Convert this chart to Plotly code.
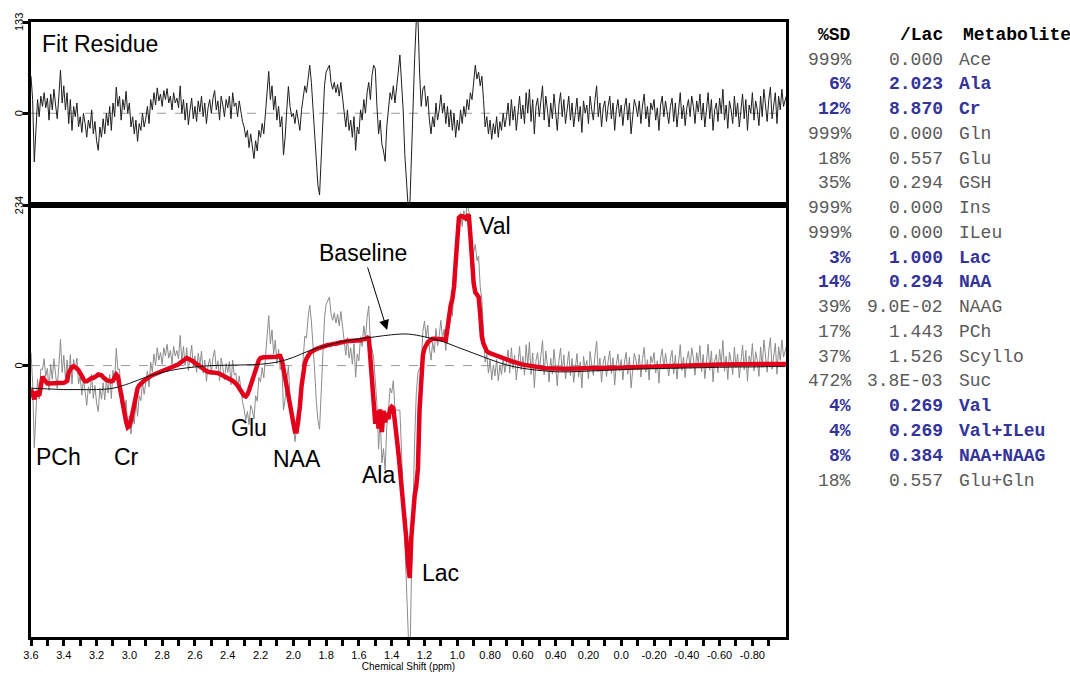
import numpy as np
import plotly.graph_objects as go

# ---------------- data ----------------
PPM_START = 3.60
PPM_STEP = 0.01

# LCModel fit (red), one value per 0.01 ppm from 3.60 down to -1.01
FIT = [
    -35, -44, -49, -38, -40, -44, -30, -16, -20, -24,
    -26, -26, -26, -25, -25, -25, -25, -25, -25, -25,
    -25, -24, -22, -10, -4, -2, -1, -2, -4, -7,
    -10, -15, -20, -23, -23, -21, -19, -18, -18, -17,
    -15, -13, -13, -14, -17, -20, -21, -22, -23, -23,
    -22, -18, -13, -16, -30, -45, -60, -72, -82, -90,
    -88, -80, -68, -55, -40, -33, -29, -26, -24, -22,
    -20, -18, -16, -15, -14, -13, -12, -11, -10, -9,
    -8, -7, -6, -5, -4, -3, -3, -2, -1, 0,
    2, 4, 6, 8, 10, 11, 10, 9, 8, 6,
    4, 2, 0, -2, -4, -6, -7, -8, -9, -10,
    -10, -10, -10, -10, -11, -12, -14, -15, -16, -17,
    -18, -19, -20, -22, -24, -26, -29, -33, -37, -41,
    -44, -45, -42, -36, -28, -20, -12, -4, 3, 8,
    11, 12, 12, 12, 12, 12, 12, 12, 12, 12,
    13, 14, 14, 8, -4, -14, -26, -40, -55, -70,
    -84, -96, -96, -80, -60, -30, -10, 3, 10, 15,
    18, 20, 22, 23, 24, 25, 26, 27, 28, 29,
    29, 30, 30, 31, 31, 32, 32, 33, 33, 34,
    34, 35, 35, 36, 36, 36, 37, 37, 37, 37,
    37, 37, 38, 38, 39, 40, 42, 10, -30, -60,
    -85, -66, -92, -64, -97, -66, -83, -69, -78, -63,
    -60, -62, -80, -100, -125, -150, -175, -198, -222, -255,
    -290, -310, -250, -215, -190, -176, -150, -64, -10, 15,
    25, 31, 34, 36, 38, 39, 39, 39, 39, 39,
    39, 39, 38, 37, 55, 75, 88, 97, 115, 150,
    192, 216, 218, 218, 216, 215, 218, 220, 190, 148,
    120, 107, 103, 100, 75, 42, 32, 25, 21, 19,
    18, 17, 16, 15, 14, 13, 12.5, 12, 11, 10,
    9, 8, 7, 6, 5.5, 5, 4, 3.5, 3, 2,
    1.5, 1, 0.5, 0, -0.5, -1, -1.5, -2, -2.5, -3,
    -3, -3.2, -3.4, -3.6, -3.8, -4, -4, -4.2, -4.2, -4.4,
    -4.4, -4.5, -4.5, -4.5, -4.5, -4.5, -4.5, -4.5, -4.5, -4.5,
    -4.5, -4.5, -4.5, -4.5, -4.5, -4.5, -4.5, -4.5, -4.5, -4.5,
    -4.5, -4.5, -4.5, -4.4, -4.4, -4.3, -4.3, -4.2, -4.2, -4.1,
    -4, -3.9, -3.8, -3.7, -3.6, -3.5, -3.4, -3.3, -3.2, -3.1,
    -3, -2.9, -2.8, -2.7, -2.6, -2.5, -2.4, -2.3, -2.2, -2.1,
    -2.0, -1.9, -1.8, -1.7, -1.6, -1.5, -1.4, -1.3, -1.2, -1.1,
    -1.0, -0.9, -0.8, -0.7, -0.6, -0.5, -0.4, -0.3, -0.2, -0.1,
    0, 0.1, 0.2, 0.3, 0.4, 0.5, 0.5, 0.6, 0.6, 0.7,
    0.7, 0.8, 0.8, 0.9, 0.9, 1.0, 1.0, 1.1, 1.1, 1.2,
    1.2, 1.2, 1.3, 1.3, 1.3, 1.4, 1.4, 1.4, 1.5, 1.5,
    1.5, 1.6, 1.6, 1.6, 1.7, 1.7, 1.7, 1.8, 1.8, 1.8,
    1.9, 1.9, 1.9, 2.0, 2.0, 2.0, 2.1, 2.1, 2.1, 2.2,
    2.2, 2.2, 2.3, 2.3, 2.3, 2.3, 2.4, 2.4, 2.4, 2.4,
    2.5, 2.5, 2.5, 2.5, 2.5, 2.5, 2.5, 2.5, 2.5, 2.5,
    2.5, 2.5,
]

# Fit residue (data - fit), same ppm grid
RESIDUE = [
    54, 20, -71, -18, 20, -5, 25, 10, 30, 8,
    22, -10, 28, 5, 35, 12, -8, 25, 63, 15,
    40, 5, 30, -15, 20, -25, 10, -5, 15, -20,
    -5, -28, 0, -15, -35, -10, -22, 5, -30, -12,
    -40, -54, -20, -35, -8, -30, 0, -18, 10, -25,
    15, -5, 38, 10, 25, -10, 20, 5, 32, 0,
    15, -20, -5, -30, -10, -41, -15, -25, 0, -20,
    -8, 10, -15, 20, 5, 30, 12, 37, 18, 28,
    10, 33, 20, 36, 15, 25, 5, 30, 15, 22,
    8, 40, 0, 20, -10, 15, -17, 5, 22, -8,
    10, -12, 18, 2, 25, -5, 15, -15, 8, 20,
    0, 22, 33, 5, 18, -10, 25, 12, -5, 20,
    8, 25, -8, 30, 10, 15, -5, 18, 0, -12,
    -20, -35, -25, -50, -30, -45, -66, -40, -55, -25,
    -35, -15, -30, 0, 25, 61, 20, 40, 5, 25,
    -10, 10, -20, -5, -61, -35, 5, 39, 10, -5,
    0, -15, 5, -10, -25, 5, 20, 40, 30, 55,
    70, 45, 10, -30, -75, -105, -119, -70, -10, 40,
    60, 65, 70, 45, 35, 45, 30, 42, 25, 45,
    20, 0, -20, 5, -25, -10, -35, -5, -54, -20,
    -30, 5, -10, 20, 0, 30, 45, 20, 55, 70,
    65, 10, -30, -10, -45, -55, -70, -20, 10, 30,
    20, 40, 15, 35, 60, 85, 50, 5, -60, -100,
    -135, -140, -60, 20, 80, 135, 140, 60, 10, 35,
    40, 10, 25, -10, -30, -5, -20, 15, -10, 5,
    27, 0, 15, -15, 10, -20, 5, -25, 0, -35,
    -10, -25, 5, -15, 10, -5, 20, 5, 30, 20,
    45, 70, 50, 60, 40, 54, 20, -20, -5, -30,
    -10, -38, -15, -30, -5, -35, -12, -25, 0, -20,
    -5, 15, -18, 20, -10, 10, -25, 5, 25, -8,
    12, -15, 30, 0, 35, -12, 20, -30, 10, 22,
    -5, 18, 40, -10, 25, 5, -20, 15, -8, 28,
    2, -25, 12, 30, -5, 20, -15, 8, 25, -10,
    15, -20, 5, 22, -12, 10, -28, 18, 0, 12,
    -15, 25, 5, -10, 20, 40, -5, 15, -20, 8,
    18, -12, 10, 25, -8, 15, -25, 5, 20, -5,
    12, -18, 8, 22, -10, 15, -30, 0, 20, 10,
    -5, 18, -15, 12, 28, -8, 10, -20, 15, 5,
    20, -10, 8, -25, 12, 25, -5, 18, 0, -15,
    10, 22, -12, 15, -20, 5, 30, -8, 12, -18,
    8, 20, -5, 25, 10, -15, 18, 2, 28, -10,
    15, -20, 10, 30, -8, 20, -25, 5, 15, -12,
    22, 0, 35, -10, 12, -22, 18, 5, -15, 25,
    -5, 15, -20, 10, 28, -8, 20, -25, 12, 0,
    30, -10, 18, 5, -18, 25, -5, 35, 10, -12,
    20, 38, -8, 15, 30, -15, 25, 5, 35, 10,
    20, 28,
]

# Baseline (thin black), coarse grid
BASELINE_PPM = [3.6, 3.5, 3.4, 3.3, 3.2, 3.1, 3.0, 2.9, 2.8, 2.7, 2.6, 2.5, 2.4,
                2.3, 2.2, 2.1, 2.0, 1.9, 1.8, 1.7, 1.6, 1.5, 1.4, 1.3, 1.2, 1.1,
                1.0, 0.9, 0.8, 0.7, 0.6, 0.5, 0.4, 0.3, 0.2, 0.1, 0.0, -0.1, -0.2,
                -0.3, -0.4, -0.5, -0.6, -0.7, -0.8, -0.9, -1.0]
BASELINE = [-33, -34, -35, -35, -35, -33, -26, -17, -10, -5, -2, 0, 0.5,
            1, 2, 5, 12, 22, 29, 35, 39, 42, 45, 46, 42, 36,
            27, 18, 9, 1, -4, -7, -9, -9, -8, -7, -6, -5, -4.5,
            -4, -3.5, -3, -2.5, -2, -2, -1.5, -1.5]

# Results table
METABOLITES = ["Ace", "Ala", "Cr", "Gln", "Glu", "GSH", "Ins", "ILeu", "Lac", "NAA",
               "NAAG", "PCh", "Scyllo", "Suc", "Val", "Val+ILeu", "NAA+NAAG", "Glu+Gln"]
PCT_SD = ["999%", "6%", "12%", "999%", "18%", "35%", "999%", "999%", "3%", "14%",
          "39%", "17%", "37%", "472%", "4%", "4%", "8%", "18%"]
CONC_LAC = ["0.000", "2.023", "8.870", "0.000", "0.557", "0.294", "0.000", "0.000", "1.000",
            "0.294", "9.0E-02", "1.443", "1.526", "3.8E-03", "0.269", "0.269", "0.384", "0.557"]
HIGHLIGHT = [False, True, True, False, False, False, False, False, True, True,
             False, False, False, False, True, True, True, False]
TABLE_HEADER = ["%SD", "/Lac", "Metabolite"]

# Axis ticks
XTICK_VALS = [3.6, 3.5, 3.4, 3.3, 3.2, 3.1, 3.0, 2.9, 2.8, 2.7, 2.6, 2.5, 2.4, 2.3,
              2.2, 2.1, 2.0, 1.9, 1.8, 1.7, 1.6, 1.5, 1.4, 1.3, 1.2, 1.1, 1.0, 0.9,
              0.8, 0.7, 0.6, 0.5, 0.4, 0.3, 0.2, 0.1, 0.0, -0.1, -0.2, -0.3, -0.4,
              -0.5, -0.6, -0.7, -0.8, -0.9]
XTICK_TEXT = ["3.6", "", "3.4", "", "3.2", "", "3.0", "", "2.8", "", "2.6", "", "2.4", "",
              "2.2", "", "2.0", "", "1.8", "", "1.6", "", "1.4", "", "1.2", "", "1.0", "",
              "0.80", "", "0.60", "", "0.40", "", "0.20", "", "0.0", "", "-0.20", "", "-0.40",
              "", "-0.60", "", "-0.80", ""]
TOP_YLABELS = [133, 0]
BOTTOM_YLABELS = [234, 0]

PEAK_LABELS = ["PCh", "Cr", "Glu", "NAA", "Ala", "Lac", "Val"]
PEAK_LABEL_PPM = [3.43, 3.015, 2.272, 1.98, 1.48, 1.103, 0.768]
PEAK_LABEL_VAL = [-133, -133, -91, -136, -159, -302, 204]

# ---------------- layout helpers ----------------
W, H = 1070, 680
ML, MR, MT, MB = 31, 284, 22, 37
PW, PH = W - ML - MR, H - MT - MB


def px(x):
    return (x - ML) / PW


def py(y):
    return (H - MB - y) / PH


split = py(207)

ppm = np.round(PPM_START - PPM_STEP * np.arange(len(FIT)), 2)
fit = np.array(FIT, dtype=float)
res = np.array(RESIDUE, dtype=float)
data = fit + res

fig = go.Figure()
fig.add_trace(go.Scatter(x=ppm, y=res, mode="lines", xaxis="x2", yaxis="y2",
                         line=dict(color="#1e1e1e", width=1), hoverinfo="skip"))
fig.add_trace(go.Scatter(x=ppm, y=data, mode="lines",
                         line=dict(color="#8c8c8c", width=1), hoverinfo="skip"))
fig.add_trace(go.Scatter(x=ppm, y=fit, mode="lines",
                         line=dict(color="#e2001a", width=4.5), hoverinfo="skip"))
fig.add_trace(go.Scatter(x=BASELINE_PPM, y=BASELINE, mode="lines",
                         line=dict(color="#111111", width=1, shape="spline"), hoverinfo="skip"))

XR = [3.6, -1.005]
axis_common = dict(showline=True, linewidth=3, linecolor="black", mirror=True,
                   showgrid=False, zeroline=False)

fig.update_layout(
    width=W, height=H, autosize=False,
    margin=dict(l=ML, r=MR, t=MT, b=MB, pad=0),
    paper_bgcolor="white", plot_bgcolor="white",
    showlegend=False,
    font=dict(family="Arial, Liberation Sans, sans-serif", color="black"),
    xaxis=dict(range=XR, domain=[0, 1], anchor="y", tickmode="array",
               tickvals=XTICK_VALS, ticktext=XTICK_TEXT, ticks="outside",
               ticklen=6, tickwidth=3, tickcolor="black",
               tickfont=dict(size=11, family="Arial, Liberation Sans, sans-serif"),
               title=dict(text="Chemical Shift (ppm)", standoff=0,
                          font=dict(size=10)), **axis_common),
    yaxis=dict(range=[-396, 234], domain=[0, split], anchor="x", tickmode="array",
               tickvals=[0, 234], ticks="outside", ticklen=5, tickwidth=3,
               tickcolor="black", showticklabels=False, **axis_common),
    xaxis2=dict(range=XR, domain=[0, 1], anchor="y2", matches="x",
                showticklabels=False, ticks="", **axis_common),
    yaxis2=dict(range=[-134, 133], domain=[split, 1], anchor="x2", tickmode="array",
                tickvals=[0, 133], ticks="outside", ticklen=5, tickwidth=3,
                tickcolor="black", showticklabels=False, **axis_common),
)

# dashed zero lines
for yr in ("y", "y2"):
    fig.add_shape(type="line", xref="paper", yref=yr, x0=0, x1=1, y0=0, y1=0,
                  line=dict(color="#9a9a9a", width=1, dash="dash"), layer="below")

ann = []
# rotated y labels
for v in TOP_YLABELS:
    ann.append(dict(text=str(v), xref="paper", yref="y2", x=0, y=v, xshift=-12,
                    showarrow=False, textangle=-90, font=dict(size=11),
                    xanchor="center", yanchor="middle"))
for v in BOTTOM_YLABELS:
    ann.append(dict(text=str(v), xref="paper", yref="y", x=0, y=v, xshift=-12,
                    showarrow=False, textangle=-90, font=dict(size=11),
                    xanchor="center", yanchor="middle"))

ann.append(dict(text="Fit Residue", xref="paper", yref="paper", x=px(40), y=py(44),
                xanchor="left", yanchor="middle", showarrow=False, font=dict(size=23)))

for t, xv, yv in zip(PEAK_LABELS, PEAK_LABEL_PPM, PEAK_LABEL_VAL):
    ann.append(dict(text=t, xref="x", yref="y", x=xv, y=yv, showarrow=False,
                    xanchor="center", yanchor="middle", font=dict(size=23)))

ann.append(dict(text="Baseline", xref="x", yref="y", x=1.428, y=52, ax=-24, ay=-77,
                axref="pixel", ayref="pixel", showarrow=True, arrowhead=2, arrowsize=2,
                arrowwidth=1, arrowcolor="black", font=dict(size=23)))

# results table
MONO = "Courier New, Liberation Mono, monospace"
BLUE = "#33339a"
GRAY = "#5a5a5a"
hy = 35
ann.append(dict(text="<b>%s</b>" % TABLE_HEADER[0], xref="paper", yref="paper", x=px(853), y=py(hy),
                xanchor="right", yanchor="middle", showarrow=False, font=dict(family=MONO, size=18, color="black")))
ann.append(dict(text="<b>%s</b>" % TABLE_HEADER[1], xref="paper", yref="paper", x=px(945), y=py(hy),
                xanchor="right", yanchor="middle", showarrow=False, font=dict(family=MONO, size=18, color="black")))
ann.append(dict(text="<b>%s</b>" % TABLE_HEADER[2], xref="paper", yref="paper", x=px(961), y=py(hy),
                xanchor="left", yanchor="middle", showarrow=False, font=dict(family=MONO, size=18, color="black")))
for i, (m, sd, c, hl) in enumerate(zip(METABOLITES, PCT_SD, CONC_LAC, HIGHLIGHT)):
    yy = py(hy + 25 * (i + 1))
    col = BLUE if hl else GRAY
    fmt = "<b>%s</b>" if hl else "%s"
    for txt, xx, anc in ((sd, 853, "right"), (c, 945, "right"), (m, 957, "left")):
        ann.append(dict(text=fmt % txt, xref="paper", yref="paper", x=px(xx), y=yy,
                        xanchor=anc, yanchor="middle", showarrow=False,
                        font=dict(family=MONO, size=18, color=col)))

fig.update_layout(annotations=ann)

fig.write_html("out.html", config={"displayModeBar": False},
               post_script="document.body.style.margin='0';document.body.style.overflow='hidden';")
